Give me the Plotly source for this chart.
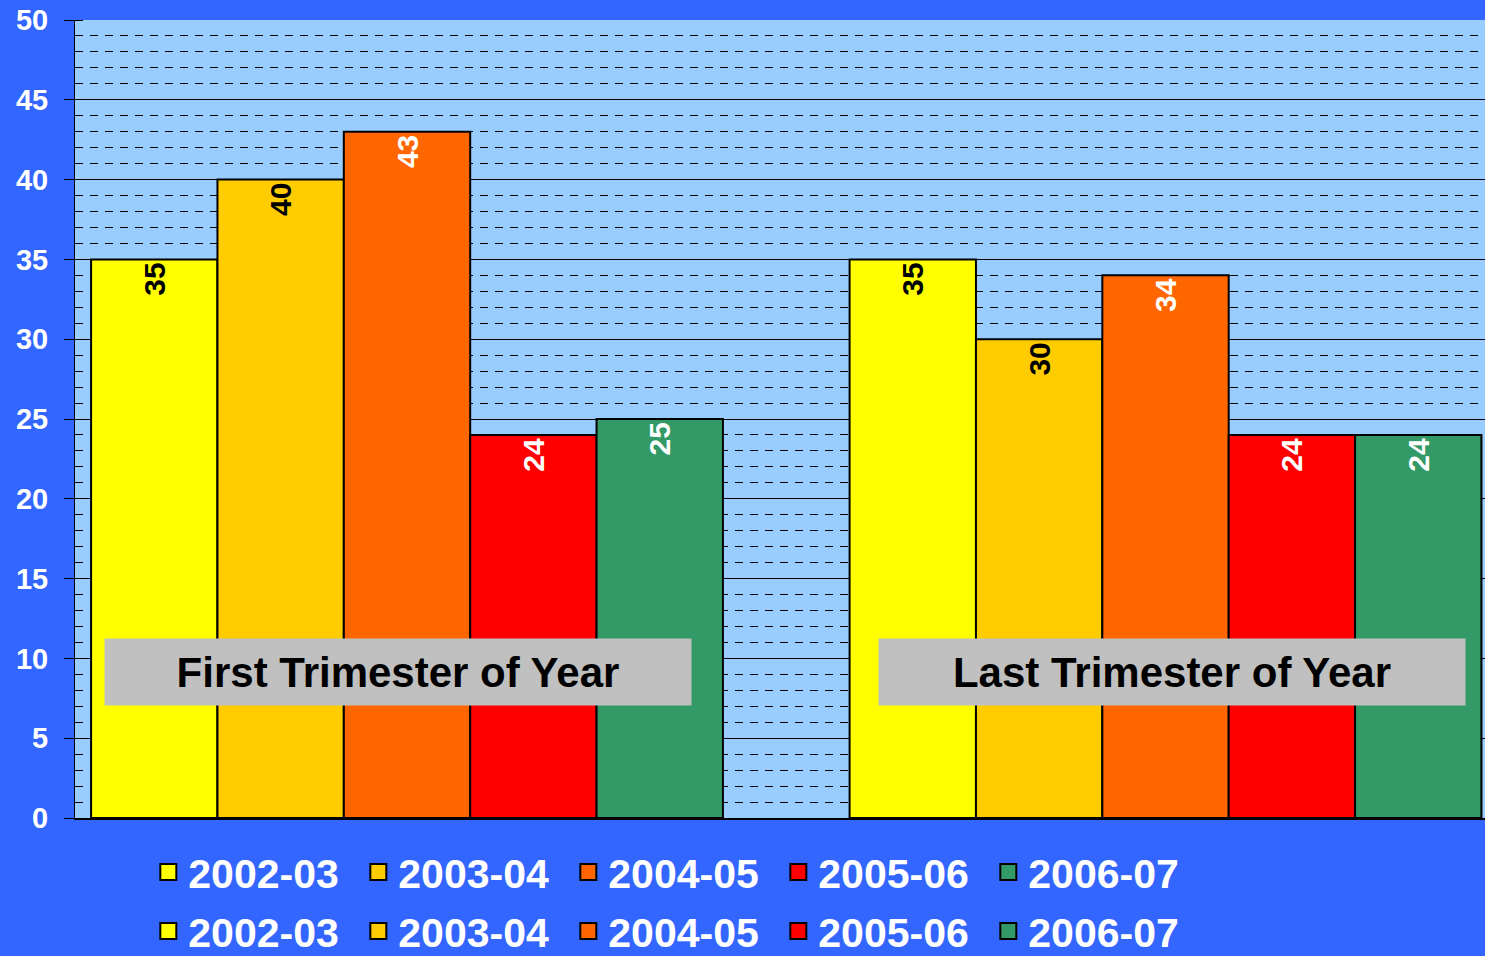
import plotly.graph_objects as go

categories = ["First Trimester of Year", "Last Trimester of Year"]
series_names = ["2002-03", "2003-04", "2004-05", "2005-06", "2006-07"]
values_2002_03 = [35, 35]
values_2003_04 = [40, 30]
values_2004_05 = [43, 34]
values_2005_06 = [24, 24]
values_2006_07 = [25, 24]
y_ticks = [0, 5, 10, 15, 20, 25, 30, 35, 40, 45, 50]

series_values = [values_2002_03, values_2003_04, values_2004_05, values_2005_06, values_2006_07]
colors = ["#FFFF00", "#FFCC00", "#FF6600", "#FF0000", "#339966"]
label_colors = ["black", "black", "white", "white", "white"]

FONT = "Liberation Sans, Arial, sans-serif"

fig = go.Figure()
for name, vals, col, lc in zip(series_names, series_values, colors, label_colors):
    fig.add_trace(go.Bar(
        x=categories, y=vals, name=name,
        marker=dict(color=col, line=dict(color="black", width=2)),
        text=[str(v) for v in vals], textposition="inside", insidetextanchor="end",
        textangle=-90, constraintext="none",
        textfont=dict(family=FONT, size=30, color=lc, weight="bold"),
        showlegend=False, hoverinfo="skip",
    ))

# legend entries (two identical rows)
for lg in ["legend", "legend2"]:
    for name, col in zip(series_names, colors):
        fig.add_trace(go.Scatter(
            x=[None], y=[None], mode="markers", name=name, legend=lg,
            marker=dict(symbol="square", size=26, color=col, line=dict(color="black", width=2)),
            showlegend=True,
        ))

legend_common = dict(
    orientation="h", xanchor="left", yanchor="middle",
    font=dict(family=FONT, size=41, color="white", weight="bold"),
    bgcolor="rgba(0,0,0,0)", entrywidth=165, entrywidthmode="pixels",
    itemclick=False, itemdoubleclick=False, tracegroupgap=0,
)

fig.update_layout(
    width=1485, height=956,
    margin=dict(l=75, r=0, t=20, b=138, autoexpand=False),
    paper_bgcolor="#3366FF", plot_bgcolor="#99CCFF",
    barmode="group", bargap=0.167, bargroupgap=0,
    showlegend=True,
    legend=dict(x=0.052, y=-0.068, **legend_common),
    legend2=dict(x=0.052, y=-0.142, **legend_common),
    xaxis=dict(
        type="category", range=[-0.4377, 1.4212], showticklabels=False,
        showgrid=False, showline=True, linecolor="black", linewidth=2,
        ticks="", zeroline=False,
    ),
    yaxis=dict(
        range=[0, 50], tickvals=y_ticks, ticktext=[str(t) for t in y_ticks],
        tickfont=dict(family=FONT, size=29, color="white", weight="bold"),
        ticklabelstandoff=10,
        showgrid=True, gridcolor="black", gridwidth=1,
        showline=True, linecolor="black", linewidth=1,
        ticks="outside", ticklen=10, tickcolor="black", tickwidth=1,
        zeroline=False,
        minor=dict(dtick=1, showgrid=True, gridcolor="black", gridwidth=1,
                   griddash="8px,7px", ticks="inside", ticklen=8, tickcolor="black"),
    ),
)

label_x = [-0.012, 1.009]
for cat_x, cat in zip(label_x, categories):
    fig.add_annotation(
        x=cat_x, y=9.125, xref="x", yref="y", text=cat, showarrow=False,
        font=dict(family=FONT, size=42, color="black", weight="bold"),
        bgcolor="#C0C0C0", width=584, height=64, align="center", valign="middle",
    )

fig.write_html(
    "out.html",
    config={"displayModeBar": False},
    post_script="document.body.style.margin='0';document.body.style.overflow='hidden';",
)
